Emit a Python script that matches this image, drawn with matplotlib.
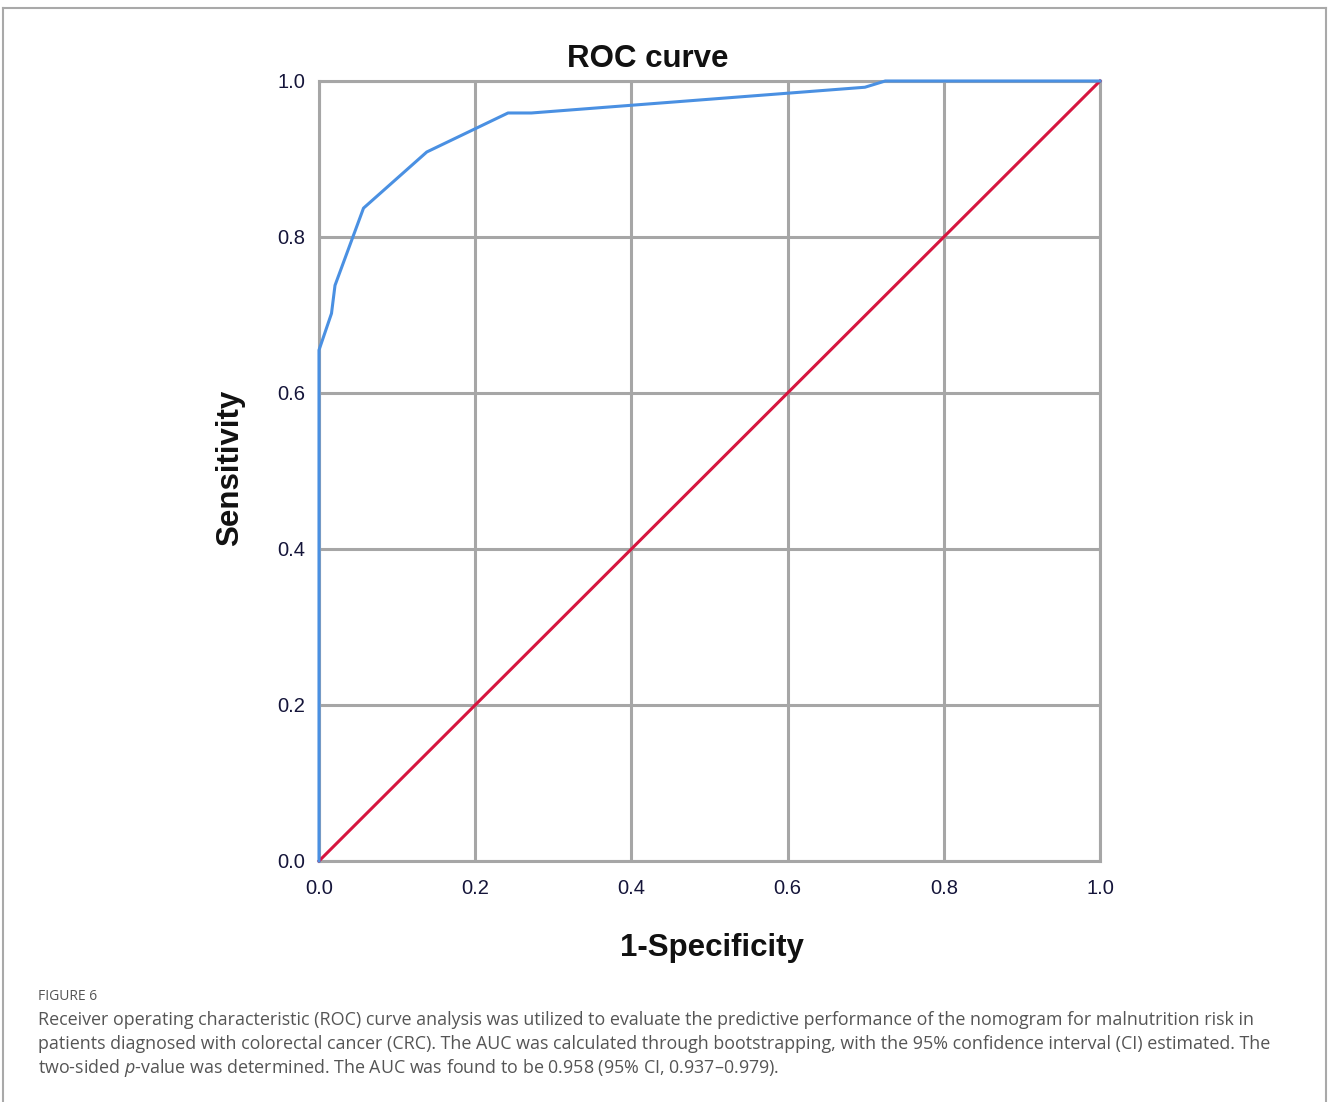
import matplotlib
matplotlib.use("Agg")
import matplotlib.pyplot as plt
from matplotlib.lines import Line2D

plt.rcParams["mathtext.fontset"] = "custom"
plt.rcParams["mathtext.it"] = "Open Sans:italic"
plt.rcParams["mathtext.rm"] = "Open Sans"

# ROC curve data
fpr = [0.0, 0.0, 0.016, 0.0205, 0.057, 0.138, 0.242, 0.272, 0.699, 0.725, 1.0]
tpr = [0.0, 0.655, 0.702, 0.738, 0.837, 0.909, 0.959, 0.959, 0.992, 1.0, 1.0]
ref_x = [0.0, 1.0]
ref_y = [0.0, 1.0]
ticks = [0.0, 0.2, 0.4, 0.6, 0.8, 1.0]
tick_labels = ["0.0", "0.2", "0.4", "0.6", "0.8", "1.0"]

title = "ROC curve"
xlabel = "1-Specificity"
ylabel = "Sensitivity"
fig_label = "FIGURE 6"
caption_lines = [
    "Receiver operating characteristic (ROC) curve analysis was utilized to evaluate the predictive performance of the nomogram for malnutrition risk in",
    "patients diagnosed with colorectal cancer (CRC). The AUC was calculated through bootstrapping, with the 95% confidence interval (CI) estimated. The",
    "two-sided $\\it{p}$-value was determined. The AUC was found to be 0.958 (95% CI, 0.937\u20130.979).",
]

W, H = 1328, 1102
fig = plt.figure(figsize=(W / 100, H / 100), dpi=100)
fig.patch.set_facecolor("white")

def fx(px):
    return px / W

def fy(py):
    return 1 - py / H

ax = fig.add_axes([fx(319), fy(861), fx(1100) - fx(319), fy(81) - fy(861)])
grid_c = "#a6a6a6"
ax.set_xlim(0, 1)
ax.set_ylim(0, 1)
ax.set_xticks(ticks)
ax.set_yticks(ticks)
ax.set_xticklabels(tick_labels)
ax.set_yticklabels(tick_labels)
ax.grid(True, color=grid_c, linewidth=2.2, zorder=0)
for s in ax.spines.values():
    s.set_color(grid_c)
    s.set_linewidth(2.2)
ax.tick_params(length=0, labelsize=14.5, labelcolor="#15153a")
ax.tick_params(axis="y", pad=10)
ax.tick_params(axis="x", pad=13)
for lab in ax.get_xticklabels() + ax.get_yticklabels():
    lab.set_family("Liberation Sans")

ax.plot(ref_x, ref_y, color="#d6163f", linewidth=2.2, zorder=3, clip_on=False)
ax.plot(fpr, tpr, color="#4a90e2", linewidth=2.2, zorder=4, clip_on=False)

fig.text(fx(648), fy(59), title, ha="center", va="center", fontsize=22.5,
         fontweight="bold", family="Liberation Sans", color="#111111")
fig.text(fx(712), fy(948), xlabel, ha="center", va="center", fontsize=22.5,
         fontweight="bold", family="Liberation Sans", color="#111111")
fig.text(fx(230), fy(468), ylabel, ha="center", va="center", fontsize=22.5,
         fontweight="bold", family="Liberation Sans", color="#111111", rotation=90)

# caption
fig.text(fx(38), fy(996), fig_label, ha="left", va="center", fontsize=10,
         family="Open Sans", color="#555555")
for i, line in enumerate(caption_lines):
    fig.text(fx(38), fy(1025 + 24 * i), line, ha="left", va="baseline",
             fontsize=12.85, family="Open Sans", color="#555555")

# outer border (left, top, right)
bc = "#a9a9a9"
fig.add_artist(Line2D([fx(3.5), fx(3.5)], [fy(1102), fy(7.5)], color=bc, linewidth=1.5))
fig.add_artist(Line2D([fx(3.5), fx(1326)], [fy(7.5), fy(7.5)], color=bc, linewidth=1.5))
fig.add_artist(Line2D([fx(1326), fx(1326)], [fy(7.5), fy(1102)], color=bc, linewidth=1.5))

fig.savefig("out.png", dpi=100, facecolor="white")
